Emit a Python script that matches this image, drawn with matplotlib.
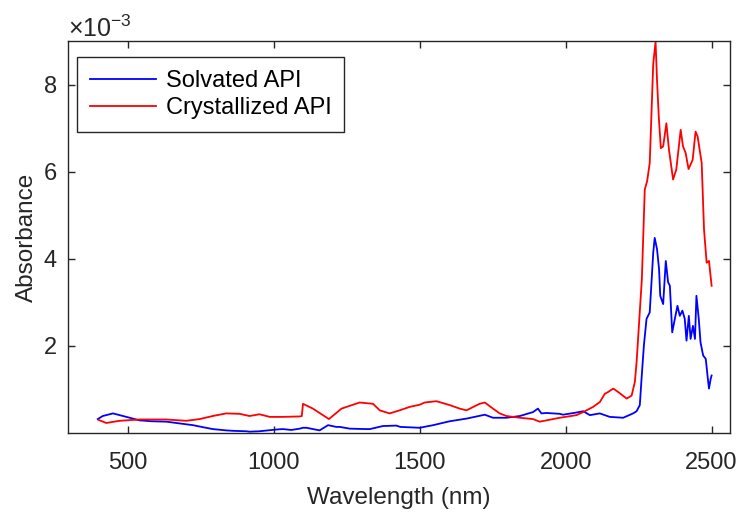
import matplotlib
matplotlib.use("Agg")
import matplotlib.pyplot as plt
from matplotlib.ticker import ScalarFormatter

plt.rcParams['font.family'] = ['Liberation Sans', 'DejaVu Sans']
plt.rcParams['mathtext.fontset'] = 'custom'
plt.rcParams['mathtext.rm'] = 'Liberation Sans'
plt.rcParams['mathtext.it'] = 'Liberation Sans:italic'
plt.rcParams['mathtext.bf'] = 'Liberation Sans:bold'

# Wavelength (nm) and absorbance (x 1e-3)
solv_wl = [397, 414, 449, 495, 540, 580, 632, 700, 723, 760, 791, 837, 860, 906, 917, 951,
           1009, 1031, 1060, 1089, 1100, 1112, 1157, 1186, 1214, 1226, 1260, 1317, 1329,
           1374, 1420, 1433, 1500, 1546, 1603, 1660, 1723, 1751, 1797, 1843, 1888, 1905,
           1917, 1934, 1980, 1991, 2037, 2060, 2083, 2117, 2151, 2197, 2231, 2243, 2254,
           2260, 2268, 2277, 2288, 2300, 2305, 2313, 2320, 2324, 2334, 2343, 2351, 2357,
           2365, 2374, 2383, 2391, 2400, 2408, 2414, 2422, 2428, 2436, 2443, 2448, 2456,
           2462, 2471, 2480, 2487, 2491, 2497, 2500]
solv_abs = [0.32, 0.39, 0.45, 0.37, 0.29, 0.27, 0.26, 0.20, 0.18, 0.13, 0.09, 0.06, 0.05,
            0.04, 0.03, 0.04, 0.08, 0.09, 0.07, 0.10, 0.12, 0.12, 0.06, 0.18, 0.14, 0.14,
            0.10, 0.09, 0.09, 0.16, 0.17, 0.14, 0.12, 0.18, 0.27, 0.33, 0.42, 0.35, 0.35,
            0.39, 0.48, 0.56, 0.45, 0.46, 0.44, 0.42, 0.47, 0.50, 0.41, 0.45, 0.37, 0.35,
            0.45, 0.50, 0.64, 1.25, 2.01, 2.62, 2.77, 4.14, 4.48, 4.22, 3.76, 3.15, 2.96,
            3.95, 3.46, 3.38, 2.31, 2.62, 2.92, 2.69, 2.81, 2.62, 2.12, 2.69, 2.16, 2.46,
            2.16, 3.15, 2.62, 2.08, 1.78, 1.70, 1.25, 1.02, 1.25, 1.32]

cryst_wl = [400, 426, 472, 540, 632, 700, 746, 791, 837, 883, 917, 951, 986, 1031, 1089,
            1096, 1100, 1134, 1189, 1232, 1294, 1340, 1363, 1397, 1431, 1466, 1500, 1517,
            1557, 1603, 1637, 1660, 1705, 1723, 1751, 1774, 1797, 1843, 1888, 1911, 1934,
            1980, 2037, 2060, 2094, 2117, 2134, 2145, 2163, 2180, 2209, 2226, 2237, 2243,
            2261, 2271, 2279, 2288, 2300, 2308, 2313, 2319, 2326, 2334, 2345, 2354, 2368,
            2379, 2394, 2402, 2411, 2421, 2435, 2445, 2452, 2466, 2474, 2483, 2491, 2500]
cryst_abs = [0.30, 0.23, 0.28, 0.31, 0.31, 0.28, 0.32, 0.39, 0.45, 0.44, 0.39, 0.43, 0.37,
             0.37, 0.38, 0.39, 0.67, 0.56, 0.32, 0.56, 0.70, 0.67, 0.52, 0.45, 0.52, 0.60,
             0.65, 0.70, 0.73, 0.64, 0.56, 0.52, 0.67, 0.70, 0.56, 0.45, 0.39, 0.35, 0.32,
             0.26, 0.29, 0.35, 0.41, 0.48, 0.60, 0.71, 0.90, 0.94, 1.02, 0.94, 0.79, 0.86,
             1.17, 1.63, 3.53, 5.59, 5.78, 6.20, 8.48, 8.98, 8.10, 7.26, 6.54, 6.58, 7.11,
             6.50, 5.82, 6.05, 6.96, 6.58, 6.43, 6.06, 6.27, 6.92, 6.81, 6.20, 4.67, 3.91,
             3.95, 3.38]

x_ticks = [500, 1000, 1500, 2000, 2500]
y_ticks = [2e-3, 4e-3, 6e-3, 8e-3]

fig = plt.figure(figsize=(7.43, 5.13), dpi=100)
ax = fig.add_axes([68/743, 1-433/513, (730-68)/743, (433-41)/513])

ax.plot(solv_wl, [v*1e-3 for v in solv_abs], color=(0, 0, 1), lw=1.3, label='Solvated API')
ax.plot(cryst_wl, [v*1e-3 for v in cryst_abs], color=(1, 0, 0), lw=1.3, label='Crystallized API')

ax.set_xlim(295, 2563)
ax.set_ylim(0.0, 9.0e-3)
ax.set_xticks(x_ticks)
ax.set_yticks(y_ticks)

fmt = ScalarFormatter(useMathText=True)
fmt.set_powerlimits((-2, 2))
ax.yaxis.set_major_formatter(fmt)
ax.yaxis.get_offset_text().set_fontsize(18)
ax.yaxis.get_offset_text().set_color('#262626')

ax.tick_params(direction='in', top=True, right=True, length=5, width=1,
               labelsize=17, colors='#262626')
ax.tick_params(axis='x', pad=14)
ax.tick_params(axis='y', pad=8)
for s in ax.spines.values():
    s.set_color('#262626')
    s.set_linewidth(1)

ax.set_xlabel('Wavelength (nm)', fontsize=17.5, color='#262626', labelpad=9)
ax.set_ylabel('Absorbance', fontsize=17.5, color='#262626', labelpad=3)

leg = ax.legend(loc='upper left', bbox_to_anchor=(9/662, 1-16/392), borderaxespad=0,
                fontsize=17, frameon=True, fancybox=False,
                edgecolor='#262626', framealpha=1, handlelength=2.8, handletextpad=0.4,
                labelspacing=0.22, borderpad=0.55)
leg.get_frame().set_linewidth(1)

fig.savefig('out.png', dpi=100)
